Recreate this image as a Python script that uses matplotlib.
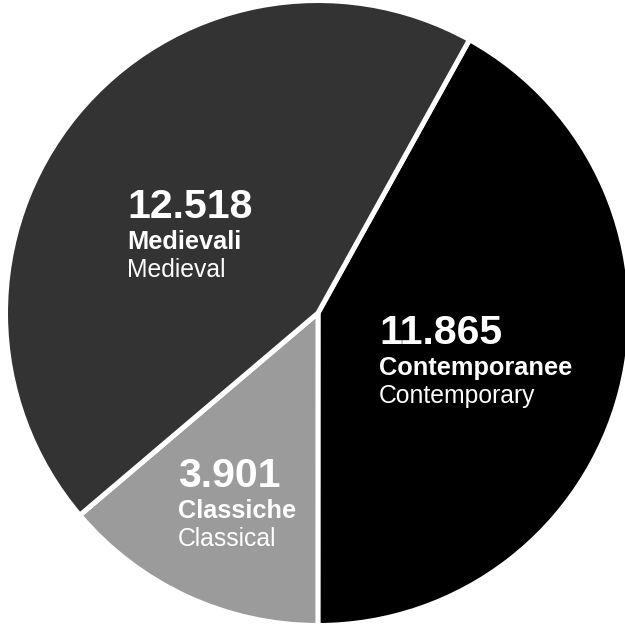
import matplotlib
matplotlib.use("Agg")
import matplotlib.pyplot as plt

# Book counts by period
categories = ["Contemporanee", "Classiche", "Medievali"]
categories_en = ["Contemporary", "Classical", "Medieval"]
values = [11865, 3901, 12518]
value_labels = ["11.865", "3.901", "12.518"]
colors = ["#000000", "#9b9b9b", "#333333"]

W, H = 625, 626
fig = plt.figure(figsize=(W / 100, H / 100), dpi=100)
ax = fig.add_axes([0, 0, 1, 1])

# pixel geometry of the pie (center / radius in px)
cx, cy, rpx = 318, 313, 310

ax.pie(values, colors=colors, startangle=61, counterclock=False,
       radius=1.008, center=(0, 0), frame=True,
       wedgeprops=dict(edgecolor="white", linewidth=3.6))
ax.set_xlim(-cx / rpx, (W - cx) / rpx)
ax.set_ylim(-(H - cy) / rpx, cy / rpx)
ax.set_aspect("auto")
ax.axis("off")

# label anchors in pixels: left x, baseline of number line
label_pos = {
    "Contemporanee": (379, 344),
    "Classiche": (178, 487),
    "Medievali": (127, 218),
}
font = "Liberation Sans"
for cat, en, lab in zip(categories, categories_en, value_labels):
    x, y = label_pos[cat]
    fig.text(x / W, 1 - y / H, lab, color="white", fontsize=29.5,
             fontweight="bold", family=font, ha="left", va="baseline")
    fig.text(x / W, 1 - (y + 31) / H, cat, color="white", fontsize=18.3,
             fontweight="bold", family=font, ha="left", va="baseline")
    fig.text(x / W, 1 - (y + 59) / H, en, color="white", fontsize=17.8,
             family=font, ha="left", va="baseline")

fig.savefig("out.png", dpi=100, facecolor="white")
